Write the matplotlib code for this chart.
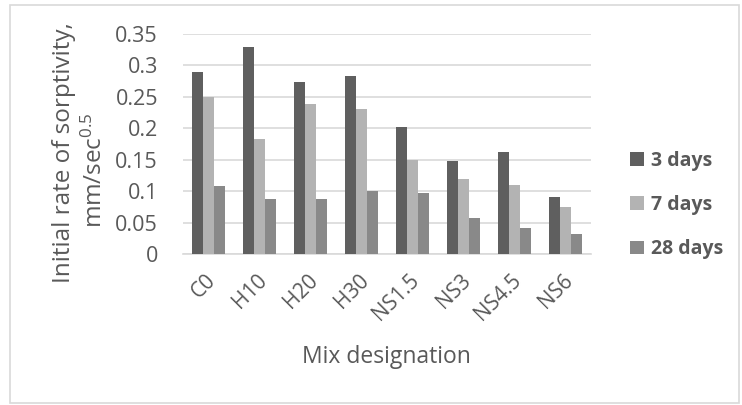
import matplotlib.pyplot as plt
import numpy as np
from matplotlib.patches import Rectangle
from matplotlib.transforms import ScaledTranslation

# data
mixes = ["C0", "H10", "H20", "H30", "NS1.5", "NS3", "NS4.5", "NS6"]
days3 = [0.29, 0.33, 0.273, 0.283, 0.202, 0.148, 0.162, 0.09]
days7 = [0.25, 0.183, 0.239, 0.23, 0.149, 0.12, 0.11, 0.075]
days28 = [0.108, 0.088, 0.088, 0.1, 0.097, 0.057, 0.041, 0.032]
series = [("3 days", days3, "#5f5f5f"),
          ("7 days", days7, "#b3b3b3"),
          ("28 days", days28, "#898989")]

plt.rcParams['font.family'] = ['Open Sans', 'DejaVu Sans']
plt.rcParams['mathtext.fontset'] = 'custom'
plt.rcParams['mathtext.rm'] = 'Open Sans'
plt.rcParams['mathtext.it'] = 'Open Sans:italic'
txt = "#595959"

fig = plt.figure(figsize=(7.42, 4.05), dpi=100)
ax = fig.add_axes([0.2466, 0.3728, 0.5499, 0.5432])

x = np.arange(len(mixes))
w = 0.22
for i, (name, vals, col) in enumerate(series):
    ax.bar(x + (i - 1) * w, vals, w, color=col, label=name, zorder=3)

ax.set_xlim(-0.5, len(mixes) - 0.5)
ax.set_ylim(0, 0.35)
ax.set_yticks(np.arange(0, 0.351, 0.05))
ax.set_yticklabels(["0", "0.05", "0.1", "0.15", "0.2", "0.25", "0.3", "0.35"])
ax.yaxis.grid(True, color="#d9d9d9", linewidth=1.2, zorder=0)
for s in ["top", "right", "left"]:
    ax.spines[s].set_visible(False)
ax.spines["bottom"].set_color("#d9d9d9")
ax.spines["bottom"].set_linewidth(1.2)
ax.tick_params(axis="both", length=0, colors=txt)
ax.tick_params(axis="y", labelsize=15.5, pad=18)
ax.set_xticks(x)
ax.set_xticklabels(mixes, rotation=45, ha="right", va="center",
                   rotation_mode="anchor", fontsize=15)
ax.tick_params(axis="x", pad=17)
shift = ScaledTranslation(4 / 100, 0, fig.dpi_scale_trans)
for lab in ax.get_xticklabels():
    lab.set_transform(lab.get_transform() + shift)

# y axis title, two lines placed separately
fig.text(64 / 742, 1 - 153 / 405, "Initial rate of sorptivity,", rotation=90,
         ha="center", va="center", fontsize=17.5, color=txt)
fig.text(95 / 742, 1 - 170 / 405, "mm/sec$^{0.5}$", rotation=90,
         ha="center", va="center", fontsize=17.5, color=txt)
fig.text(386 / 742, 1 - 357 / 405, "Mix designation", ha="center", va="center",
         fontsize=16.5, color=txt)

leg = fig.legend(loc="center left", bbox_to_anchor=(0.826, 0.494), frameon=False,
                 prop={"weight": "bold", "size": 14}, labelspacing=1.25,
                 handlelength=0.7, handleheight=0.7, handletextpad=0.35)
for t in leg.get_texts():
    t.set_color(txt)

fig.patches.append(Rectangle((10 / 742, 2 / 405), 729 / 742, 398 / 405,
                             transform=fig.transFigure, fill=False,
                             edgecolor="#d9d9d9", linewidth=1.2))

fig.savefig("out.png", dpi=100)
